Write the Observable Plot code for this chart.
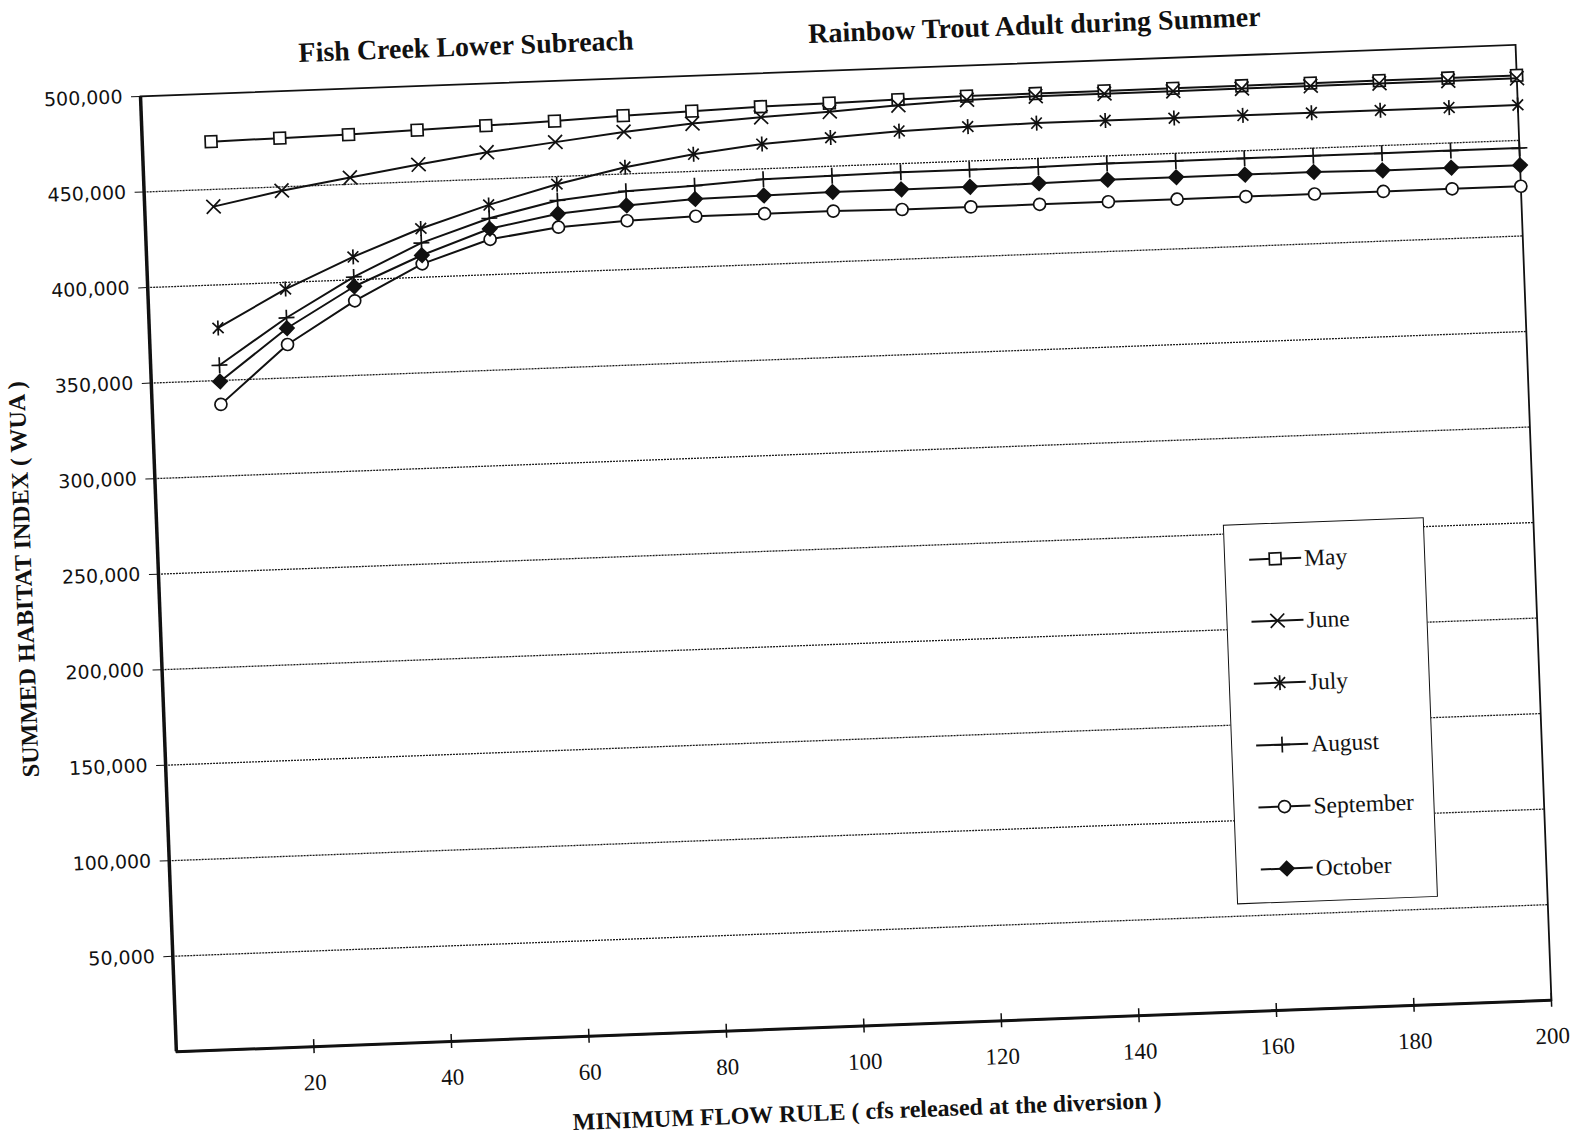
<!DOCTYPE html>
<html><head><meta charset="utf-8">
<script src="https://cdn.jsdelivr.net/npm/d3@7"></script>
<script src="https://cdn.jsdelivr.net/npm/@observablehq/plot@0.6"></script>
<style>
html,body{margin:0;padding:0;background:#fff;overflow:hidden;width:1571px;height:1135px;}
#fig{position:absolute;left:0;top:0;width:1571px;height:1160px;transform-origin:140px 96px;transform:rotate(-2.15deg);}
.title{position:absolute;font-family:"Liberation Serif",serif;font-weight:bold;font-size:28px;line-height:1;white-space:nowrap;color:#111;}
#chart{position:absolute;left:0;top:70px;}
#legend{position:absolute;left:1206px;top:565px;width:201px;height:380px;border:1.6px solid #111;background:#fff;box-sizing:border-box;}
.item{position:absolute;left:24px;height:24px;display:flex;align-items:center;font-family:"Liberation Serif",serif;font-size:23.5px;color:#111;white-space:nowrap;}
.item svg{display:block;overflow:visible;}
</style></head>
<body>
<div id="fig">
  <div class="title" style="left:300px;top:45px">Fish Creek Lower Subreach</div>
  <div class="title" style="left:810px;top:45px">Rainbow Trout Adult during Summer</div>
  <div id="chart"></div>
  <div id="legend"></div>
</div>
<script>
// ---- data ----
const flow = [10, 20, 30, 40, 50, 60, 70, 80, 90, 100, 110, 120, 130, 140, 150, 160, 170, 180, 190, 200];
const may = [475000, 475500, 476000, 477000, 478000, 479000, 480500, 481500, 482500, 483000, 483500, 484000, 484000, 484000, 484000, 484000, 484000, 484000, 484000, 484000];
const june = [441000, 448000, 453500, 459000, 464000, 468000, 472000, 475000, 477000, 478500, 480500, 482000, 482500, 482500, 482500, 482500, 482500, 482500, 482500, 482500];
const july = [377500, 396500, 412000, 425500, 436500, 446000, 453500, 459000, 463000, 465000, 467000, 468000, 468500, 468500, 468500, 468500, 468500, 468500, 468500, 468500];
const august = [358000, 381500, 401500, 418000, 429500, 437500, 441000, 442500, 444500, 445000, 445500, 445500, 445500, 446000, 446000, 446000, 446000, 446000, 446000, 446000];
const september = [337500, 367500, 389000, 407000, 418500, 423500, 425500, 426500, 426500, 426500, 426000, 426000, 426000, 426000, 426000, 426000, 426000, 426000, 426000, 426000];
const october = [349500, 376000, 396500, 411500, 424000, 430500, 433500, 435500, 436000, 436500, 436500, 436500, 437000, 437500, 437500, 437500, 437500, 437000, 437000, 437000];
const months = ["May", "June", "July", "August", "September", "October"];
const yTicks = [50000, 100000, 150000, 200000, 250000, 300000, 350000, 400000, 450000, 500000];
const xTicks = [20, 40, 60, 80, 100, 120, 140, 160, 180, 200];

// ---- symbols ----
const asterisk = {draw(ctx, size) {
  const r = Math.sqrt(size / Math.PI), d = r * 0.72;
  ctx.moveTo(-d, -d); ctx.lineTo(d, d);
  ctx.moveTo(d, -d); ctx.lineTo(-d, d);
  ctx.moveTo(0, -r); ctx.lineTo(0, r);
}};
const styles = [
  {symbol: d3.symbolSquare, r: 6.6, fill: "white"},
  {symbol: d3.symbolTimes, r: 6.4, fill: "none"},
  {symbol: asterisk, r: 7.5, fill: "none"},
  {symbol: d3.symbolPlus, r: 5.2, fill: "none"},
  {symbol: d3.symbolCircle, r: 6, fill: "white"},
  {symbol: d3.symbolDiamond2, r: 6.4, fill: "#111"}
];
const series = [may, june, july, august, september, october];
const rows = months.flatMap((m, i) => flow.map((f, j) => ({month: m, flow: f, wua: series[i][j]})));

const seriesMarks = months.flatMap((m, i) => {
  const data = rows.filter(d => d.month === m);
  return [
    Plot.line(data, {x: "flow", y: "wua", stroke: "#111", strokeWidth: 2}),
    Plot.dot(data, {x: "flow", y: "wua", symbol: styles[i].symbol, r: styles[i].r,
      fill: styles[i].fill, stroke: "#111", strokeWidth: 1.7})
  ];
});

const chart = Plot.plot({
  width: 1571, height: 1080,
  marginLeft: 140, marginRight: 55, marginTop: 26, marginBottom: 98,
  style: {background: "transparent", color: "#111", overflow: "visible"},
  x: {domain: [0, 200]},
  y: {domain: [0, 500000]},
  marks: [
    Plot.gridY(yTicks.filter(v => v < 500000), {stroke: "#111", strokeOpacity: 0.95, strokeWidth: 1.3, strokeDasharray: "2,1"}),
    Plot.frame({stroke: "#111", strokeWidth: 1.8}),
    Plot.ruleX([0], {stroke: "#111", strokeWidth: 3.5}),
    Plot.ruleY([0], {stroke: "#111", strokeWidth: 3}),
    Plot.axisY({ticks: yTicks, tickFormat: d3.format(","), tickSize: 9, tickPadding: 9,
      fontSize: 19, fontFamily: "DejaVu Sans", label: "SUMMED HABITAT INDEX ( WUA )",
      labelAnchor: "center", labelOffset: 144, labelArrow: "none"}),
    Plot.axisX({ticks: xTicks, tickSize: 14, dy: -7, tickFormat: () => "", label: null, strokeWidth: 1.5}),
    Plot.axisX({ticks: xTicks, tickSize: 0, tickPadding: 27, fontSize: 23, fontFamily: "Liberation Serif",
      label: "MINIMUM FLOW RULE ( cfs released at the diversion )", labelAnchor: "center", labelOffset: 93, labelArrow: "none"}),
    ...seriesMarks
  ]
});
document.getElementById("chart").appendChild(chart);

// axis titles: bold serif, no arrows
chart.querySelectorAll('[aria-label="y-axis label"], [aria-label="x-axis label"]').forEach(g => {
  g.setAttribute("font-family", "Liberation Serif");
  g.setAttribute("font-size", 24);
  g.setAttribute("font-weight", "bold");
  g.querySelectorAll("text").forEach(t => {
    t.setAttribute("font-family", "Liberation Serif"); t.setAttribute("font-size", 24); t.setAttribute("font-weight", "bold");
    t.textContent = t.textContent.replace(/\s*[→↑←↓]\s*/g, "").trim();
  });
});

// ---- legend ----
const legend = d3.select("#legend");
months.forEach((m, i) => {
  const item = legend.append("div").attr("class", "item").style("top", (35 + i * 62 - 12) + "px");
  const svg = item.append("svg").attr("width", 52).attr("height", 24);
  svg.append("line").attr("x1", 0).attr("x2", 52).attr("y1", 12).attr("y2", 12).attr("stroke", "#111").attr("stroke-width", 2);
  svg.append("path").attr("transform", "translate(26,12)")
    .attr("d", d3.symbol(styles[i].symbol, styles[i].r * styles[i].r * Math.PI)())
    .attr("fill", styles[i].fill).attr("stroke", "#111").attr("stroke-width", 1.7);
  item.append("span").style("margin-left", "3px").text(m);
});
</script>
</body></html>
